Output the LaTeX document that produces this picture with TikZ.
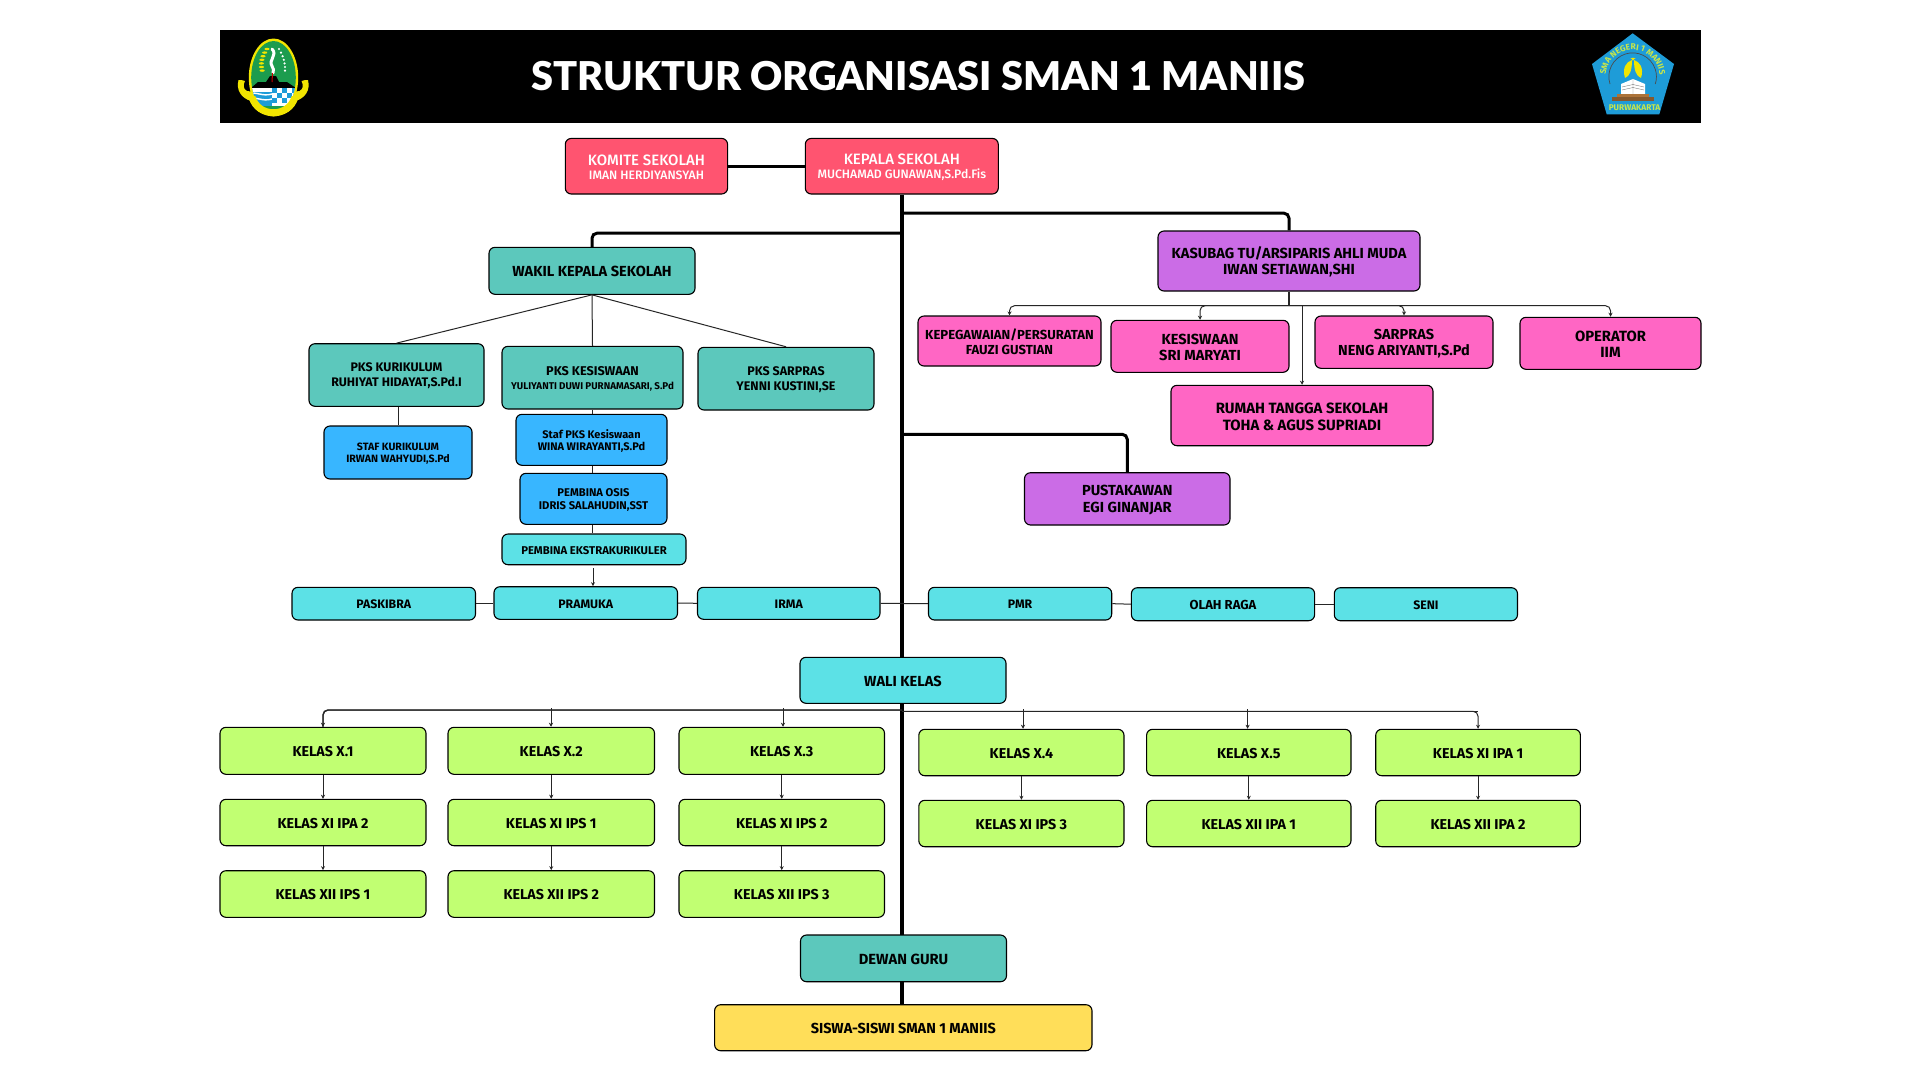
\documentclass[tikz,border=0pt]{standalone}
\usepackage{fontspec}
\setmainfont{Fira Sans}[UprightFont=* Bold,BoldFont=* Bold]
\newfontfamily\redfont{Fira Sans Medium}
\newfontfamily\titlefont{Lato Black}
\usetikzlibrary{arrows.meta,decorations.text,calc}
\definecolor{cred}{HTML}{FF5470}
\definecolor{cteal}{HTML}{5CC8BC}
\definecolor{cblue}{HTML}{38B6FF}
\definecolor{ccyan}{HTML}{5CE1E6}
\definecolor{cgreen}{HTML}{C1FF72}
\definecolor{cpink}{HTML}{FF66C4}
\definecolor{cpurple}{HTML}{CB6CE6}
\definecolor{cyellow}{HTML}{FFDE59}
\definecolor{wjgreen}{HTML}{1C9C4E}
\definecolor{wjyellow}{HTML}{F2E500}
\definecolor{pentblue}{HTML}{1E9CD8}
\definecolor{pentyell}{HTML}{C8E64A}
\tikzset{
  box/.style={draw=black,line width=1.1pt,rounded corners=6pt,inner sep=0pt},
  boxtext/.style={align=center,inner sep=0pt,text=black},
  thickline/.style={line width=3pt,black,rounded corners=5pt},
  thinline/.style={line width=1pt,black!85},
  busline/.style={line width=1.4pt,black!85,rounded corners=5pt},
  arr/.style={line width=1pt,black!85,rounded corners=5pt,-{Stealth[length=4pt,width=4pt]}},
}
% \bx{name}{x1}{y1}{x2}{y2}{colour}{font size}{line spacing}{text}
\newcommand{\bx}[9]{%
  \node[box,fill=#6,minimum width={(#4-#2)*1pt},minimum height={(#5-#3)*1pt}] (#1) at ({(#2+#4)/2},{(#3+#5)/2}) {};
  \node[boxtext,font=\fontsize{#7}{#8}\selectfont] (#1t) at ([yshift=-1pt]#1.center) {#9};}
\begin{document}
\begin{tikzpicture}[x=1pt,y=-1pt]
\useasboundingbox (0,0) rectangle (1920,1080);
\fill[white] (0,0) rectangle (1920,1080);
% header
\fill[black] (220,30) rectangle (1700.7,122.7);
\node[text=white,font=\titlefont\fontsize{39.7}{40}\selectfont,inner sep=0pt] (title) at (918.5,76.5) {STRUKTUR ORGANISASI SMAN 1 MANIIS};
% West Java crest
\begin{scope}
  \fill[wjyellow] (238.5,80) .. controls (236,90) and (241,98) .. (251,101) -- (255,92) -- (247,91) .. controls (243,89) and (243,85) .. (245,81) .. controls (243,80) and (240,80) .. (238.5,80) -- cycle;
  \fill[wjyellow] (308,80) .. controls (310.5,90) and (305.5,98) .. (295.5,101) -- (291.5,92) -- (299.5,91) .. controls (303.5,89) and (303.5,85) .. (301.5,81) .. controls (303.5,80) and (306.5,80) .. (308,80) -- cycle;
  \fill[wjyellow] (273.5,77.5) ellipse [x radius=24.7,y radius=39];
  \begin{scope}
    \clip (273.5,77.5) ellipse [x radius=22.3,y radius=36.5];
    \fill[wjgreen] (245,35) rectangle (302,120);
    \fill[black] (251,88) -- (258,82) -- (266,82) -- (270,76) -- (276,76) -- (279,82) -- (287,82) -- (296,88) -- cycle;
    \fill[white] (250,88) rectangle (272,106);
    \fill[pentblue] (250,92) rectangle (272,106);
    \draw[white,line width=1.4pt] (250,94) .. controls (256,91) and (262,97) .. (272,94);
    \draw[white,line width=1.4pt] (250,99) .. controls (256,96) and (262,102) .. (272,99);
    \fill[white] (272,88) rectangle (298,106);
    \foreach \a/\b in {272/88,282/88,292/88,277/93,287/93,272/98,282/98,292/98}
      \fill[pentblue] (\a,\b) rectangle ++(5,5);
  \end{scope}
  % lower ribbon
  \draw[wjyellow,line width=7pt] (252,97) .. controls (258,118) and (289,118) .. (295,97);
  % keris
  \draw[white,line width=3pt,line cap=round] (272,49) .. controls (278,55) and (268,60) .. (272,66) .. controls (274,68) and (273.5,71) .. (273,73);
  \draw[red!80!black,line width=1pt] (272.5,73) -- (272,82);
  % paddy
  \foreach \p in {0,...,6}
    \fill[wjyellow] ({267-2.6*\p+0.3*\p*\p},{49+3.6*\p}) ellipse [x radius=2.6,y radius=1.2];
  % cotton
  \foreach \p in {0,...,6}
    \fill[white] ({279+2.2*\p-0.2*\p*\p},{49+3.6*\p}) circle [radius=1.2];
\end{scope}
% school pentagon crest
\begin{scope}
  \fill[pentblue] (1632.7,33.3) -- (1674,64) -- (1659.3,114.3) -- (1606.7,114.3) -- (1592,64) -- cycle;
  \draw[black!70,line width=.7pt] (1610,84) arc [start angle=162,end angle=378,radius=23.8];
  \path[decorate,decoration={text along path,text align=center,text={|\fontsize{8.4}{9}\selectfont\color{pentyell}|SMA NEGERI 1 MANIIS}}]
     (1606.1,81.7) arc [start angle=170,end angle=370,radius=27];
  \fill[wjyellow] (1632,60) .. controls (1626,62) and (1622,68) .. (1625,78) .. controls (1630,76) and (1632,70) .. (1632,60) -- cycle;
  \fill[wjyellow] (1634,60) .. controls (1640,62) and (1644,68) .. (1641,78) .. controls (1636,76) and (1634,70) .. (1634,60) -- cycle;
  \fill[wjyellow] (1633,57) -- (1634,60.5) -- (1630.5,58.2) -- (1635.5,58.2) -- (1632,60.5) -- cycle;
  \fill[white] (1621,84) -- (1633,79) -- (1645,84) -- (1645,94) -- (1633,96) -- (1621,94) -- cycle;
  \draw[black!50,line width=.4pt] (1633,79) -- (1633,96) (1622,87) -- (1633,84.5) -- (1644,87) (1622,90) -- (1633,87.5) -- (1644,90);
  \fill[brown!70!black] (1612,97) rectangle (1654,101);
  \fill[brown!90!black] (1617,93.5) rectangle (1649,97);
  \node[inner sep=0pt,text=pentyell,font=\fontsize{8.3}{8.5}\selectfont] (purw) at (1634.5,108) {PURWAKARTA};
\end{scope}

% named coordinates for bends and free ends
\coordinate (j1) at (902,233.2);
\coordinate (j2) at (902,213.2);
\coordinate (j3) at (902,434.3);
\coordinate (busk) at (1289,305.7);
\coordinate (rumahj) at (1302,305.7);
\coordinate (ekstraend) at (593,568);
\coordinate (irmaj) at (902,603.5);
\coordinate (walil) at (902,710);
\coordinate (walir) at (902,711.3);
\coordinate (dx2) at (551,708);
\coordinate (dx3) at (783,708);
\coordinate (dx4) at (1023,709);
\coordinate (dx5) at (1247.6,709);
\coordinate (sisw) at (902,1005);

% boxes at the top
\bx{komite}{565.3}{138.4}{727.6}{194}{cred}{15}{14.5}{\textcolor{white}{\redfont KOMITE SEKOLAH}\\\textcolor{white}{\redfont\fontsize{12.2}{12}\selectfont IMAN HERDIYANSYAH}}
\bx{kepala}{805.3}{138.4}{998.3}{194}{cred}{15}{14.5}{\textcolor{white}{\redfont KEPALA SEKOLAH}\\\textcolor{white}{\redfont\fontsize{12.2}{12}\selectfont MUCHAMAD GUNAWAN,S.Pd.Fis}}

% thick connectors below the boxes on them
\draw[line width=3pt,black] (komite.east) -- (komite.east -| kepala.west);
\draw[line width=3.2pt,black] (kepala.south -| j1) -- (sisw);

\bx{wakil}{489}{247.3}{695}{294.3}{cteal}{14.6}{17}{WAKIL KEPALA SEKOLAH}
\bx{pkskur}{309}{343.7}{484}{406.3}{cteal}{12.4}{15}{PKS KURIKULUM\\RUHIYAT HIDAYAT,S.Pd.I}
\bx{pkskes}{502}{346.3}{683}{409}{cteal}{12.7}{14.5}{PKS KESISWAAN\\{\fontsize{9.8}{12}\selectfont YULIYANTI DUWI PURNAMASARI, S.Pd}}
\bx{pkssar}{698}{347.3}{874}{410}{cteal}{12.5}{15}{PKS SARPRAS\\YENNI KUSTINI,SE}
\bx{stafkur}{324}{426}{472}{479}{cblue}{10.6}{12.3}{STAF KURIKULUM\\IRWAN WAHYUDI,S.Pd}
\bx{stafkes}{516}{414.3}{667}{465.3}{cblue}{11}{12.3}{Staf PKS Kesiswaan\\WINA WIRAYANTI,S.Pd}
\bx{osis}{520}{473.3}{667}{524.3}{cblue}{11.2}{13}{PEMBINA OSIS\\IDRIS SALAHUDIN,SST}
\bx{ekstra}{502}{534}{686}{564.7}{ccyan}{11.3}{12}{PEMBINA EKSTRAKURIKULER}
\bx{paskibra}{292}{587.3}{475.5}{620}{ccyan}{12.3}{13}{PASKIBRA}
\bx{pramuka}{494}{586.7}{677.5}{619.3}{ccyan}{12.3}{13}{PRAMUKA}
\bx{irma}{697.5}{587.3}{880}{619.3}{ccyan}{12.3}{13}{IRMA}
\bx{pmr}{928.5}{587.3}{1111.7}{620}{ccyan}{12.3}{13}{PMR}
\bx{olah}{1131.4}{587.7}{1314.6}{620.7}{ccyan}{13}{13}{OLAH RAGA}
\bx{seni}{1334.3}{587.7}{1517.5}{620.7}{ccyan}{12.3}{13}{SENI}

\bx{kasubag}{1158}{231}{1420}{291}{cpurple}{14.6}{16}{KASUBAG TU/ARSIPARIS AHLI MUDA\\IWAN SETIAWAN,SHI}
\bx{kepeg}{918}{316}{1101}{366}{cpink}{13.1}{15.5}{KEPEGAWAIAN/PERSURATAN\\FAUZI GUSTIAN}
\bx{kesis}{1111}{320.3}{1289}{372.3}{cpink}{14.6}{16}{KESISWAAN\\SRI MARYATI}
\bx{sarpras}{1315}{316}{1493}{368.3}{cpink}{14.5}{16}{SARPRAS\\NENG ARIYANTI,S.Pd}
\bx{operator}{1520}{317.3}{1701}{369.3}{cpink}{14.8}{16}{OPERATOR\\IIM}
\bx{rumah}{1171}{385.3}{1433}{445.7}{cpink}{14.9}{17}{RUMAH TANGGA SEKOLAH\\TOHA \& AGUS SUPRIADI}
\bx{pustaka}{1024.5}{472.7}{1230}{525}{cpurple}{14.6}{17}{PUSTAKAWAN\\EGI GINANJAR}

\bx{wali}{800}{657.3}{1006}{703.3}{ccyan}{14.6}{16}{WALI KELAS}
\bx{dewan}{800.5}{935}{1006.5}{981.7}{cteal}{14.7}{16}{DEWAN GURU}
\bx{siswa}{714.6}{1004.7}{1092}{1050.7}{cyellow}{14.5}{16}{SISWA-SISWI SMAN 1 MANIIS}

\bx{xa}{220}{727.3}{426}{774.3}{cgreen}{14.3}{16}{KELAS X.1}
\bx{xb}{448}{727.3}{654.5}{774.3}{cgreen}{14.3}{16}{KELAS X.2}
\bx{xc}{679}{727.3}{884.5}{774.3}{cgreen}{14.3}{16}{KELAS X.3}
\bx{xd}{918.8}{729.3}{1124}{775.7}{cgreen}{14.3}{16}{KELAS X.4}
\bx{xe}{1146.6}{729.3}{1351}{775.7}{cgreen}{14.3}{16}{KELAS X.5}
\bx{xf}{1375.7}{729.3}{1580.4}{775.7}{cgreen}{14.3}{16}{KELAS XI IPA 1}
\bx{ya}{220}{799.3}{426}{845.7}{cgreen}{14.3}{16}{KELAS XI IPA 2}
\bx{yb}{448}{799.3}{654.5}{845.7}{cgreen}{14.3}{16}{KELAS XI IPS 1}
\bx{yc}{679}{799.3}{884.5}{845.7}{cgreen}{14.3}{16}{KELAS XI IPS 2}
\bx{yd}{918.8}{800.3}{1124}{846.7}{cgreen}{14.3}{16}{KELAS XI IPS 3}
\bx{ye}{1146.6}{800.3}{1351}{846.7}{cgreen}{14.3}{16}{KELAS XII IPA 1}
\bx{yf}{1375.7}{800.3}{1580.4}{846.7}{cgreen}{14.3}{16}{KELAS XII IPA 2}
\bx{za}{220}{870.7}{426}{917.3}{cgreen}{14.3}{16}{KELAS XII IPS 1}
\bx{zb}{448}{870.7}{654.5}{917.3}{cgreen}{14.3}{16}{KELAS XII IPS 2}
\bx{zc}{679}{870.7}{884.5}{917.3}{cgreen}{14.3}{16}{KELAS XII IPS 3}

% thick branches
\draw[thickline] (j1) -| (wakil.north);
\draw[thickline] (j2) -| (kasubag.north);
\draw[thickline] (j3) -| (pustaka.north);

% Wakil children
\draw[thinline] (wakil.south) -- (pkskur.north);
\draw[thinline] (wakil.south) -- (pkskes.north);
\draw[thinline] (wakil.south) -- (pkssar.north);
\draw[thinline] (pkskur.south -| stafkur.north) -- (stafkur.north);
\draw[thinline] (pkskes.south) -- (stafkes.north -| pkskes.south);
\draw[thinline] (stafkes.south -| pkskes.south) -- (osis.north -| pkskes.south);
\draw[thinline] (osis.south -| pkskes.south) -- (ekstra.north -| pkskes.south);
\draw[arr] (ekstraend) -- (ekstraend |- pramuka.north);

% ekskul row
\draw[thinline] (paskibra.east) -- (pramuka.west |- paskibra.east);
\draw[thinline] (pramuka.east) -- (irma.west);
\draw[thinline] (irma.east) -- (irmaj);
\draw[thinline] (irmaj) -- (pmr.west);
\draw[thinline] (pmr.east) -- (olah.west);
\draw[thinline] (olah.east) -- (seni.west);

% Kasubag tree
\draw[busline] (kasubag.south) -- (busk);
\draw[arr] (busk) -| (kepeg.north);
\draw[arr] (busk) -| (kesis.north);
\draw[arr] (busk) -| (sarpras.north);
\draw[arr] (busk) -| (operator.north);
\draw[arr] (rumahj) -- (rumah.north);

% Wali tree
\draw[busline] (walil) -| (xa.north) ;
\draw[arr] (walil) -| (xa.north);
\draw[arr] (dx2) -- (dx2 |- xb.north);
\draw[arr] (dx3) -- (dx3 |- xc.north);
\draw[busline] (walir) -- (xf.north |- walir);
\draw[arr] (dx4) -- (dx4 |- xd.north);
\draw[arr] (dx5) -- (dx5 |- xe.north);
\draw[arr] (walir) -| (xf.north);

% Class columns
\foreach \u/\v in {xa/ya,ya/za,xb/yb,yb/zb,xc/yc,yc/zc,xd/yd,xe/ye,xf/yf}
  \draw[arr] (\u.south) -- (\v.north);
\end{tikzpicture}
\end{document}
